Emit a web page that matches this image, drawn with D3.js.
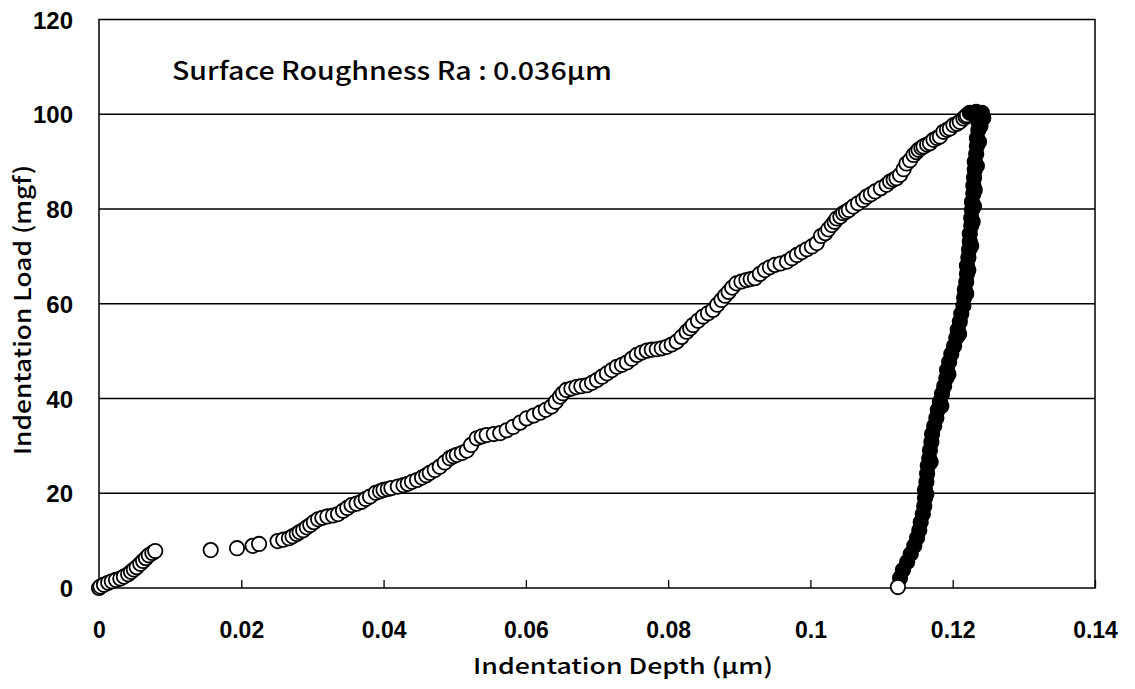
<!DOCTYPE html>
<html>
<head>
<meta charset="utf-8">
<script src="https://cdn.jsdelivr.net/npm/d3@7"></script>
<style>
  html, body { margin: 0; padding: 0; background: #fff; }
  svg { display: block; }
</style>
</head>
<body>
<svg id="chart" width="1135" height="689"></svg>
<script>
// ---- data (depth in µm, load in mgf) ----
const titleText = "Surface Roughness Ra : 0.036μm";
const xTitle = "Indentation Depth (μm)";
const yTitle = "Indentation Load (mgf)";
const xTicks = [0, 0.02, 0.04, 0.06, 0.08, 0.1, 0.12, 0.14];
const xTickLabels = ["0", "0.02", "0.04", "0.06", "0.08", "0.1", "0.12", "0.14"];
const yTicks = [0, 20, 40, 60, 80, 100, 120];
const yTickLabels = ["0", "20", "40", "60", "80", "100", "120"];

const loadDepth = [
  0.0000, 0.0002, 0.0007, 0.0013, 0.0018, 0.0024, 0.0030, 0.0035, 0.0041, 0.0045,
  0.0049, 0.0053, 0.0058, 0.0062, 0.0066, 0.0070, 0.0075, 0.0079,
  0.0157, 0.0194, 0.0216, 0.0225,
  0.0251, 0.0259, 0.0267, 0.0272, 0.0278, 0.0282, 0.0287, 0.0292, 0.0297, 0.0302,
  0.0308, 0.0314, 0.0321, 0.0329, 0.0336, 0.0343, 0.0349, 0.0355, 0.0362, 0.0369,
  0.0375, 0.0381, 0.0389, 0.0395, 0.0400, 0.0406, 0.0411, 0.0420, 0.0428, 0.0434,
  0.0440, 0.0447, 0.0454, 0.0460, 0.0465, 0.0472, 0.0479, 0.0486, 0.0493, 0.0498,
  0.0503, 0.0510, 0.0517, 0.0523, 0.0531, 0.0538, 0.0545, 0.0555, 0.0564, 0.0573,
  0.0582, 0.0592, 0.0601, 0.0611, 0.0620, 0.0628, 0.0636, 0.0642, 0.0648, 0.0652,
  0.0657, 0.0664, 0.0671, 0.0678, 0.0686, 0.0693, 0.0700, 0.0707, 0.0714, 0.0721,
  0.0728, 0.0735, 0.0742, 0.0749, 0.0756, 0.0763, 0.0770, 0.0777, 0.0784, 0.0791,
  0.0798, 0.0805, 0.0812, 0.0819, 0.0826, 0.0831, 0.0835, 0.0842, 0.0849, 0.0856,
  0.0863, 0.0869, 0.0875, 0.0880, 0.0885, 0.0890, 0.0896, 0.0903, 0.0910, 0.0916,
  0.0922, 0.0929, 0.0936, 0.0943, 0.0950, 0.0958, 0.0967, 0.0974, 0.0981, 0.0988,
  0.0995, 0.1002, 0.1009, 0.1015, 0.1021, 0.1025, 0.1030, 0.1034, 0.1037, 0.1042,
  0.1046, 0.1050, 0.1054, 0.1060, 0.1067, 0.1074, 0.1079, 0.1085, 0.1091, 0.1099,
  0.1107, 0.1112, 0.1117, 0.1121, 0.1126, 0.1131, 0.1135, 0.1140, 0.1145, 0.1149,
  0.1152, 0.1156, 0.1159, 0.1164, 0.1168, 0.1173, 0.1178, 0.1182, 0.1187, 0.1192,
  0.1196, 0.1201, 0.1206, 0.1210, 0.1215, 0.1218, 0.1220
];
const loadForce = [
  0.0, 0.3, 0.7, 1.1, 1.4, 1.7, 2.0, 2.4, 2.9, 3.4,
  3.9, 4.4, 5.1, 5.7, 6.3, 6.9, 7.4, 7.8,
  8.0, 8.4, 8.9, 9.3,
  9.9, 10.2, 10.5, 10.9, 11.4, 11.8, 12.2, 12.8, 13.3, 13.9,
  14.5, 14.8, 15.1, 15.3, 15.6, 16.3, 16.9, 17.5, 17.8, 18.2,
  18.8, 19.3, 20.1, 20.4, 20.7, 20.9, 21.1, 21.4, 21.7, 22.0,
  22.4, 22.8, 23.3, 23.8, 24.3, 24.9, 25.6, 26.5, 27.4, 27.8,
  28.1, 28.5, 29.0, 30.2, 31.6, 32.0, 32.3, 32.5, 32.7, 33.3,
  34.0, 34.9, 35.8, 36.4, 37.0, 37.6, 38.3, 39.3, 40.4, 41.1,
  41.8, 42.1, 42.4, 42.6, 42.8, 43.3, 43.9, 44.6, 45.3, 46.0,
  46.7, 47.1, 47.6, 48.4, 49.2, 49.7, 50.1, 50.3, 50.4, 50.6,
  50.9, 51.4, 52.0, 53.0, 54.1, 54.8, 55.5, 56.4, 57.3, 58.0,
  58.7, 59.8, 60.8, 61.7, 62.5, 63.4, 64.3, 64.7, 65.0, 65.2,
  65.4, 66.3, 67.1, 67.7, 68.2, 68.5, 68.9, 69.6, 70.3, 70.9,
  71.5, 72.1, 72.8, 74.3, 74.9, 75.7, 76.6, 77.3, 78.0, 78.4,
  79.1, 79.4, 79.8, 80.5, 81.2, 81.9, 82.6, 83.1, 83.7, 84.4,
  85.1, 85.8, 86.2, 86.5, 87.2, 88.4, 89.6, 90.3, 91.4, 92.0,
  92.5, 92.9, 93.2, 93.6, 93.9, 94.6, 95.0, 95.3, 96.3, 96.7,
  97.0, 97.7, 98.0, 98.4, 99.1, 99.5, 99.8
];

const unloadDepth = [
  0.1224, 0.1233, 0.1241, 0.1243, 0.1236,
  0.1236, 0.1239, 0.1236, 0.1234, 0.1237, 0.1234, 0.1233, 0.1231, 0.1234, 0.1231, 0.1230, 0.1229, 0.1231, 0.1229,
  0.1227, 0.1230, 0.1227, 0.1226, 0.1228, 0.1226, 0.1224, 0.1224, 0.1226, 0.1223, 0.1222, 0.1220, 0.1222, 0.1220,
  0.1219, 0.1217, 0.1219, 0.1216, 0.1215, 0.1212, 0.1210, 0.1207, 0.1209, 0.1205, 0.1202, 0.1198,
  0.1195, 0.1192, 0.1194, 0.1191, 0.1188, 0.1185, 0.1182, 0.1184, 0.1179, 0.1177, 0.1174, 0.1171,
  0.1170, 0.1168, 0.1167, 0.1169, 0.1165, 0.1164, 0.1163, 0.1161, 0.1163, 0.1161, 0.1160, 0.1158,
  0.1155, 0.1153, 0.1150, 0.1146, 0.1141, 0.1136, 0.1130, 0.1126, 0.1123
];
const unloadForce = [
  100.3, 100.5, 100.3, 99.2, 100.0,
  98.4, 97.5, 96.7, 95.0, 94.2, 93.3, 91.6, 90.0, 89.1, 88.3, 86.6, 84.9, 84.0, 83.2,
  81.5, 80.6, 79.8, 78.1, 77.3, 76.5, 74.8, 73.1, 72.2, 71.4, 69.7, 68.0, 67.1, 66.3,
  64.6, 63.0, 62.1, 61.3, 59.6, 57.9, 56.2, 54.5, 53.6, 52.8, 51.1, 49.4,
  47.7, 46.0, 45.1, 44.3, 42.6, 41.0, 39.3, 38.4, 37.6, 35.9, 34.2, 32.5,
  30.8, 29.1, 27.4, 26.6, 25.8, 24.1, 22.4, 20.7, 19.8, 19.0, 17.3, 15.6,
  13.9, 12.2, 10.6, 8.9, 7.2, 5.5, 3.8, 2.1, 0.2
];

// ---- layout ----
const svg = d3.select("#chart");
const W = 1135, H = 689;
const plot = { left: 99, right: 1095, top: 19.5, bottom: 588 };

svg.append("rect").attr("width", W).attr("height", H).attr("fill", "#fff");

const x = d3.scaleLinear().domain([0, 0.14]).range([plot.left, plot.right]);
const y = d3.scaleLinear().domain([0, 120]).range([plot.bottom, plot.top]);

// gridlines
const g = svg.append("g");
g.selectAll("line.grid").data(yTicks.filter(v => v > 0 && v < 120)).enter()
  .append("line").attr("class", "grid")
  .attr("x1", plot.left).attr("x2", plot.right)
  .attr("y1", d => y(d)).attr("y2", d => y(d))
  .attr("stroke", "#000").attr("stroke-width", 1.5);

// frame
g.append("rect")
  .attr("x", plot.left).attr("y", plot.top)
  .attr("width", plot.right - plot.left).attr("height", plot.bottom - plot.top)
  .attr("fill", "none").attr("stroke", "#000").attr("stroke-width", 1.5);

// x axis: ticks inside, labels below
const xAxis = d3.axisBottom(x).tickValues(xTicks)
  .tickFormat((d, i) => xTickLabels[i]).tickSizeInner(-8).tickSizeOuter(0).tickPadding(0);
const gx = svg.append("g").attr("transform", `translate(0,${plot.bottom})`).call(xAxis);
gx.select(".domain").remove();
gx.selectAll(".tick line").attr("stroke", "#000").attr("stroke-width", 1.3);
gx.selectAll(".tick text")
  .attr("y", 50).attr("dy", 0)
  .attr("fill", "#000")
  .style("font-family", "'Liberation Sans', Arial, sans-serif")
  .style("font-weight", "bold").style("font-size", "23px");

// y axis: labels only
const yAxis = d3.axisLeft(y).tickValues(yTicks)
  .tickFormat((d, i) => yTickLabels[i]).tickSize(0).tickPadding(0);
const gy = svg.append("g").attr("transform", `translate(${plot.left},0)`).call(yAxis);
gy.select(".domain").remove();
gy.selectAll(".tick text")
  .attr("x", -26).attr("dy", "0.36em")
  .attr("fill", "#000")
  .style("font-family", "'Liberation Sans', Arial, sans-serif")
  .style("font-weight", "bold").style("font-size", "24px");

// markers
const loading = loadDepth.map((d, i) => ({ d, f: loadForce[i] }));
const unloading = unloadDepth.map((d, i) => ({ d, f: unloadForce[i] }));

svg.append("g").selectAll("circle").data(loading).enter().append("circle")
  .attr("cx", p => x(p.d)).attr("cy", p => y(p.f)).attr("r", 7.2)
  .attr("fill", "#fff").attr("stroke", "#000").attr("stroke-width", 1.8);

svg.append("g").selectAll("circle").data(unloading).enter().append("circle")
  .attr("cx", p => x(p.d)).attr("cy", p => y(p.f)).attr("r", 7.2)
  .attr("fill", (p, i) => i === unloading.length - 1 ? "#fff" : "#000")
  .attr("stroke", "#000").attr("stroke-width", 1.8);

// annotation
svg.append("text").attr("x", 172).attr("y", 80)
  .attr("textLength", 440).attr("lengthAdjust", "spacingAndGlyphs")
  .style("font-family", "'Noto Sans CJK JP', 'Noto Sans', sans-serif")
  .style("font-size", "25px").style("font-weight", 500)
  .attr("fill", "#000").text(titleText);

// axis titles
svg.append("text").attr("x", 623).attr("y", 674).attr("text-anchor", "middle")
  .attr("textLength", 300).attr("lengthAdjust", "spacingAndGlyphs")
  .style("font-family", "'Noto Sans CJK JP', 'Noto Sans', sans-serif")
  .style("font-size", "22px").style("font-weight", 500)
  .attr("fill", "#000").text(xTitle);

svg.append("text")
  .attr("transform", `translate(31,310) rotate(-90)`)
  .attr("text-anchor", "middle")
  .attr("textLength", 290).attr("lengthAdjust", "spacingAndGlyphs")
  .style("font-family", "'Noto Sans CJK JP', 'Noto Sans', sans-serif")
  .style("font-size", "23px").style("font-weight", 500)
  .attr("fill", "#000").text(yTitle);
</script>
</body>
</html>
